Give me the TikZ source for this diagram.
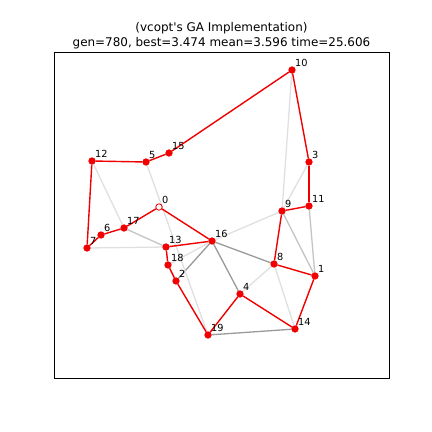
\documentclass[tikz,border=0pt]{standalone}
\usepackage{fontspec}
\setmainfont{DejaVu Sans}
\usetikzlibrary{backgrounds}
\definecolor{tourred}{HTML}{F00000}
\definecolor{gdark}{HTML}{9A9A9A}
\definecolor{gmid}{HTML}{C4C4C4}
\definecolor{glight}{HTML}{E0E0E0}
\tikzset{
  dot/.style={circle,fill=tourred,draw=tourred,line width=0.8bp,minimum size=6.4bp,inner sep=0pt},
  startdot/.style={dot,fill=white},
  lab/.style={anchor=base west,inner sep=0pt,font=\fontsize{9.8}{11}\selectfont},
  ttl/.style={anchor=base,inner sep=0pt,font=\fontsize{12}{14}\selectfont},
  tour/.style={draw=tourred,line width=1.4bp},
  edark/.style={draw=gdark,line width=1.3bp},
  emid/.style={draw=gmid,line width=1.3bp},
  elight/.style={draw=glight,line width=1.3bp},
}
\begin{document}
\begin{tikzpicture}[x=1bp,y=-1bp]
\useasboundingbox (0,0) rectangle (432,432);
\node[draw=black,line width=0.8bp,minimum width=335bp,minimum height=326bp,inner sep=0pt] (frame) at (221.5,215) {};
\node[ttl] (t1) at (221.5,31.5) {(vcopt\textquotesingle s GA Implementation)};
\node[ttl] (t2) at (221.5,46) {gen=780, best=3.474 mean=3.596 time=25.606};
\foreach \i/\x/\y in {10/292/70,3/309/162,11/309/206,9/282/211,8/274/264,1/315/276,14/295/329,4/240/294,19/208/335,2/176/281,18/168/265,13/166/247,16/212/241,17/124/228,6/101/235,7/87/248,12/92/161,5/146/162,15/169/153}{
  \node[dot] (n\i) at (\x,\y) {};
  \node[lab] (l\i) at (\x+3,\y-3.6) {\i};
}
\node[startdot] (n0) at (159,207) {};
\node[lab] (l0) at (162,203.4) {0};
\begin{pgfonlayer}{background}
\fill[white] (0,0) rectangle (432,432);
% gray edges
\foreach \a/\b in {16/8,16/4,16/2,19/14}{\draw[edark] (n\a) -- (n\b);}
\foreach \a/\b in {17/13,9/1,11/1}{\draw[emid] (n\a) -- (n\b);}
\foreach \a/\b in {10/9,3/9,16/9,8/4,8/14,12/17,7/13,5/19,18/16}{\draw[elight] (n\a) -- (n\b);}
% tour
\foreach \a/\b in {10/3,3/11,11/9,9/8,8/1,1/14,14/4,4/19,19/2,2/18,18/13,13/16,16/0,0/17,17/6,6/7,7/12,12/5,5/15,15/10}{\draw[tour] (n\a) -- (n\b);}
\end{pgfonlayer}
\end{tikzpicture}
\end{document}
